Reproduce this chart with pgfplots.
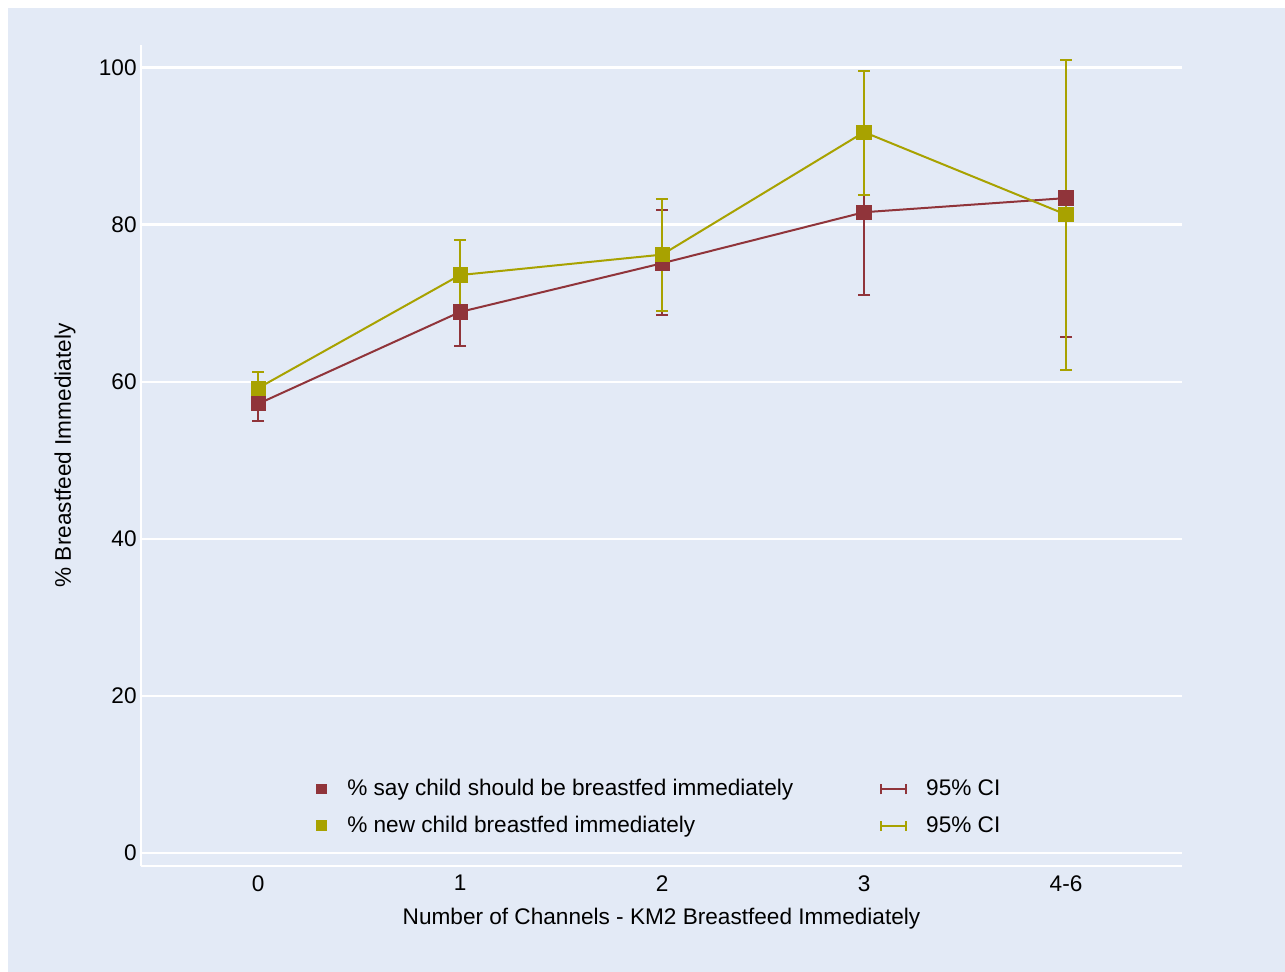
\documentclass[border=0pt]{standalone}
\usepackage{fontspec}
\setmainfont{Liberation Sans}
\usepackage{pgfplots}
\pgfplotsset{compat=1.18}
\definecolor{bgblue}{RGB}{227,234,246}
\definecolor{cred}{RGB}{144,52,58}
\definecolor{colive}{RGB}{168,162,0}
\begin{document}
\begin{tikzpicture}[font=\fontsize{11.3}{13.5}\selectfont]
\fill[white] (0,0) rectangle (642.5pt,486pt);
\fill[bgblue] (4pt,0) rectangle (642.5pt,482pt);
\begin{axis}[
  at={(70.5pt,53pt)}, anchor=south west,
  scale only axis, width=520.5pt, height=410.5pt,
  xmin=-0.58, xmax=4.574, ymin=-1.66, ymax=102.9,
  axis x line=bottom, axis y line=left,
  axis line style={white, line width=0.7pt, -},
  xtick={0,1,2,3,4}, xticklabels={0,1,2,3,4-6},
  ytick={0,20,40,60,80,100},
  major tick length=0pt,
  ymajorgrids, grid style={white, line width=1.3pt},
  /pgf/number format/assume math mode=true,
  tick label style={inner sep=0pt},
  yticklabel style={xshift=-2pt},
  xticklabel style={yshift=-4.5pt},
  xlabel={Number of Channels - KM2 Breastfeed Immediately},
  ylabel={\% Breastfeed Immediately},
  xlabel style={at={(axis description cs:0.5,-0.051)}, anchor=north, inner sep=0pt},
  ylabel style={at={(axis description cs:-0.0624,0.5)}, anchor=south, rotate=0, inner sep=0pt},
  legend columns=2,
  legend cell align=left,
  legend style={at={(0.168,0.0713)}, anchor=west, draw=none, fill=none, inner sep=0pt,
    row sep=5.5pt, /tikz/every even column/.append style={column sep=42pt},
    nodes={inner sep=1.5pt}},
]
\addplot[forget plot, cred, line width=1pt, mark=square*, mark size=3.3pt, mark options={solid},
  error bars/.cd, y dir=both, y explicit,
  error bar style={line width=1pt, cred},
  error mark options={line width=1pt, cred, mark size=3pt, rotate=90}]
  table[x=x, y=y, y error plus=ep, y error minus=em] {
x y ep em
0 57.2 2.2 2.2
1 68.9 4.3 4.3
2 75.1 6.8 6.6
3 81.6 10.5 10.5
4 83.4 17.6 17.7
};
\addplot[forget plot, colive, line width=1pt, mark=square*, mark size=3.3pt, mark options={solid},
  error bars/.cd, y dir=both, y explicit,
  error bar style={line width=1pt, colive},
  error mark options={line width=1pt, colive, mark size=3pt, rotate=90}]
  table[x=x, y=y, y error plus=ep, y error minus=em] {
x y ep em
0 59.2 2.1 2.1
1 73.6 4.4 4.4
2 76.2 7.1 7.2
3 91.8 7.8 8.0
4 81.3 19.7 19.8
};
\addlegendimage{legend image code/.code={\fill[cred, draw=none] (0,-2.6pt) rectangle (5.2pt,2.6pt); \path[draw=none, fill=none] (0,0) -- (14pt,0);}}
\addlegendentry{\% say child should be breastfed immediately}
\addlegendimage{legend image code/.code={\draw[cred, line width=1pt] (0,0) -- (12.5pt,0) (0,-2.5pt) -- (0,2.5pt) (12.5pt,-2.5pt) -- (12.5pt,2.5pt); \path[draw=none, fill=none] (0,0) -- (21pt,0);}}
\addlegendentry{95\% CI}
\addlegendimage{legend image code/.code={\fill[colive, draw=none] (0,-2.6pt) rectangle (5.2pt,2.6pt); \path[draw=none, fill=none] (0,0) -- (14pt,0);}}
\addlegendentry{\% new child breastfed immediately}
\addlegendimage{legend image code/.code={\draw[colive, line width=1pt] (0,0) -- (12.5pt,0) (0,-2.5pt) -- (0,2.5pt) (12.5pt,-2.5pt) -- (12.5pt,2.5pt); \path[draw=none, fill=none] (0,0) -- (21pt,0);}}
\addlegendentry{95\% CI}
\end{axis}
\end{tikzpicture}
\end{document}
